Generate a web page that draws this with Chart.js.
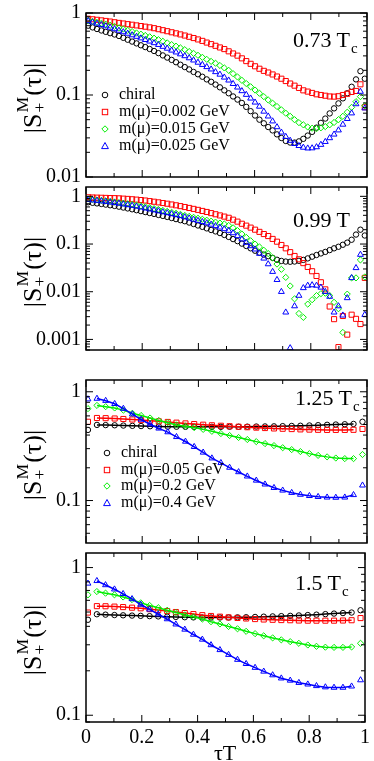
<!DOCTYPE html>
<html>
<head>
<meta charset="utf-8">
<script src="https://cdn.jsdelivr.net/npm/chart.js@4.4.1/dist/chart.umd.min.js"></script>
<style>
    html, body { margin: 0; padding: 0; background: #fff; }
    #page { position: relative; width: 374px; height: 761px; overflow: hidden; font-family: 'Liberation Serif', serif; color: #000; }
    canvas { position: absolute; left: 0; }
    .txt { position: absolute; white-space: nowrap; line-height: 1; z-index: 5; }
    .tag { font-size: 22px; }
    .tag sub { font-size: 15px; vertical-align: -6px; margin-left: 1px; }
    .ylab { position: absolute; left: 31px; font-size: 26px; white-space: nowrap; line-height: 1; transform: translate(-50%, -50%) rotate(-90deg); z-index: 5; }
    .ss { display: inline-block; vertical-align: -0.25em; font-size: 0.68em; line-height: 0.95; text-align: left; margin: 0 1px; }
    .ss span { display: block; }
    .leg { position: absolute; font-size: 16px; line-height: 1; z-index: 5; }
    .leg div { position: absolute; left: 0; white-space: nowrap; }
    .leg svg { position: absolute; left: -19px; top: 4px; }
</style>
</head>
<body>
<div id="page">
    <canvas id="p1"></canvas>
    <canvas id="p2"></canvas>
    <canvas id="p3"></canvas>
    <canvas id="p4"></canvas>

    <div class="ylab" style="top:98px">|S<span class="ss"><span>M</span><span>+</span></span>(τ)|</div>
    <div class="ylab" style="top:272px">|S<span class="ss"><span>M</span><span>+</span></span>(τ)|</div>
    <div class="ylab" style="top:465px">|S<span class="ss"><span>M</span><span>+</span></span>(τ)|</div>
    <div class="ylab" style="top:640px">|S<span class="ss"><span>M</span><span>+</span></span>(τ)|</div>

    <div class="txt tag" style="left:293px; top:29px">0.73 T<sub>c</sub></div>
    <div class="txt tag" style="left:293px; top:209px">0.99 T</div>
    <div class="txt tag" style="left:295px; top:387px">1.25 T<sub>c</sub></div>
    <div class="txt tag" style="left:295px; top:572px">1.5 T<sub>c</sub></div>

    <div class="txt" style="left:214px; top:742px; font-size:22px">τT</div>

    <div class="leg" style="left:119px; top:86px" id="leg1"></div>
    <div class="leg" style="left:121px; top:444px" id="leg3"></div>
</div>

<script>
// tau grids
const tauFine = [0.0078, 0.0234, 0.0391, 0.0547, 0.0703, 0.0859, 0.1016, 0.1172, 0.1328, 0.1484, 0.1641, 0.1797, 0.1953, 0.2109, 0.2266, 0.2422,
    0.2578, 0.2734, 0.2891, 0.3047, 0.3203, 0.3359, 0.3516, 0.3672, 0.3828, 0.3984, 0.4141, 0.4297, 0.4453, 0.4609, 0.4766, 0.4922,
    0.5078, 0.5234, 0.5391, 0.5547, 0.5703, 0.5859, 0.6016, 0.6172, 0.6328, 0.6484, 0.6641, 0.6797, 0.6953, 0.7109, 0.7266, 0.7422,
    0.7578, 0.7734, 0.7891, 0.8047, 0.8203, 0.8359, 0.8516, 0.8672, 0.8828, 0.8984, 0.9141, 0.9297, 0.9453, 0.9609, 0.9766, 0.9922];
const tauCoarse = [0.007, 0.039, 0.070, 0.102, 0.133, 0.165, 0.196, 0.228, 0.259, 0.291, 0.322, 0.354, 0.385, 0.417, 0.448, 0.480,
    0.511, 0.543, 0.574, 0.606, 0.637, 0.669, 0.700, 0.732, 0.763, 0.795, 0.826, 0.858, 0.889, 0.921, 0.952, 0.984];

// 0.73 Tc
const chiral073 = [.70, .667, .638, .612, .589, .567, .547, .525, .498, .472, .448, .426, .404, .384, .364, .344,
    .324, .304, .286, .268, .251, .234, .219, .205, .191, .179, .167, .155, .145, .134, .124, .114,
    .105, .096, .088, .080, .0716, .0635, .0562, .050, .0452, .0407, .037, .0331, .0299, .0275, .0263, .0263,
    .0272, .0292, .032, .0355, .040, .0457, .0516, .0596, .0687, .079, .091, .105, .126, .155, .195, .158];
const m002_073 = [.851, .838, .826, .813, .80, .787, .771, .757, .745, .731, .719, .706, .693, .681, .668, .653,
    .635, .617, .60, .582, .565, .548, .531, .513, .495, .476, .457, .436, .417, .398, .38, .363,
    .341, .321, .302, .28, .259, .24, .224, .209, .197, .188, .178, .168, .158, .148, .138, .130,
    .122, .114, .11, .106, .102, .10, .098, .096, .0955, .0966, .10, .1035, .109, .112, .135, .071];
const m015_073 = [.81, .789, .769, .75, .73, .71, .687, .661, .637, .614, .593, .571, .552, .532, .513, .493,
    .473, .452, .432, .412, .394, .376, .357, .339, .322, .305, .288, .272, .257, .244, .229, .214,
    .20, .182, .166, .151, .138, .126, .115, .105, .0955, .087, .0794, .0724, .066, .060, .055, .050,
    .046, .0433, .0407, .0394, .0389, .0398, .0412, .0433, .0462, .050, .055, .0617, .0708, .083, .0955, .074];
const m025_073 = [.80, .771, .745, .718, .692, .665, .638, .611, .586, .562, .538, .515, .493, .471, .451, .431,
    .41, .389, .369, .35, .332, .315, .299, .282, .265, .249, .234, .22, .206, .191, .178, .164,
    .151, .137, .124, .112, .101, .091, .0813, .0724, .063, .055, .0479, .0407, .035, .031, .0278, .0254,
    .024, .0229, .0224, .0225, .0232, .0248, .0269, .0299, .0331, .0372, .0437, .0513, .060, .0776, .11, .069];

// 0.99 Tc
const chiral099 = [.752, .731, .711, .692, .671, .65, .63, .607, .582, .558, .535, .512, .49, .468, .447, .428,
    .407, .389, .37, .351, .333, .316, .301, .282, .263, .245, .229, .213, .197, .184, .17, .155,
    .141, .127, .115, .102, .091, .0813, .0724, .066, .060, .0556, .0513, .0468, .0442, .0429, .0425, .043,
    .0445, .0465, .050, .0543, .0589, .0635, .0684, .0746, .0813, .0877, .0966, .107, .123, .158, .20, .151];
const m002_099 = [.955, .946, .94, .933, .927, .92, .916, .908, .895, .883, .869, .853, .836, .817, .794, .771,
    .748, .724, .70, .675, .649, .624, .597, .571, .546, .52, .494, .47, .445, .421, .398, .376,
    .355, .324, .295, .266, .243, .221, .20, .18, .162, .147, .128, .112, .0955, .0813, .0676, .0562,
    .0479, .0398, .0331, .0269, .0214, .0158, .0112, .0049, .00266, .00069, .0031, .00126, .0033, .0027, .0021, .0195];
const m015_099 = [.881, .861, .841, .82, .802, .782, .762, .741, .719, .698, .676, .655, .631, .605, .579, .553,
    .53, .507, .484, .462, .441, .42, .398, .38, .363, .347, .331, .316, .302, .288, .275, .263,
    .245, .219, .191, .162, .138, .117, .10, .087, .074, .063, .0513, .038, .0295, .02, .0132, .0071,
    .0035, .0029, .0055, .0068, .0083, .0091, .0093, .0083, .006, .0044, .0014, .0089, .0195, .0195, .0465, .0204];
const m025_099 = [.851, .832, .813, .794, .773, .752, .73, .708, .684, .661, .637, .614, .589, .562, .537, .513,
    .49, .468, .447, .427, .407, .389, .367, .347, .327, .309, .292, .275, .257, .24, .224, .207,
    .191, .17, .148, .126, .107, .091, .0776, .063, .05, .038, .0263, .0178, .01, .0037, .00066, .005,
    .0083, .012, .0135, .0138, .0135, .0123, .01, .0079, .0037, .005, .0032, .0074, .0195, .0316, .06, .0033];

// 1.25 Tc
const chiral125 = [.446, .496, .494, .492, .489, .486, .484, .482, .480, .478, .477, .476, .476, .476, .476, .476,
    .477, .477, .478, .479, .480, .481, .483, .485, .487, .490, .493, .497, .50, .503, .506, .53];
const m005_125 = [.53, .574, .572, .568, .562, .556, .549, .542, .535, .528, .520, .512, .505, .498, .492, .487,
    .482, .477, .472, .468, .464, .460, .457, .454, .451, .449, .447, .446, .446, .446, .447, .455];
const m02_125 = [.70, .749, .73, .71, .678, .634, .605, .574, .545, .52, .496, .483, .468, .451, .433, .413,
    .396, .38, .364, .348, .334, .32, .306, .294, .282, .27, .26, .252, .246, .243, .243, .265];
const m04_125 = [.855, .866, .828, .775, .70, .622, .556, .503, .461, .426, .385, .349, .312, .277, .245, .222,
    .201, .183, .167, .153, .141, .131, .124, .118, .1135, .1105, .1083, .107, .1065, .107, .1127, .138];

// 1.5 Tc
const chiral150 = [.443, .483, .480, .477, .475, .473, .471, .469, .467, .465, .463, .461, .46, .459, .459, .459,
    .459, .46, .461, .463, .465, .467, .469, .471, .474, .477, .48, .484, .488, .492, .496, .514];
const m005_150 = [.496, .548, .547, .544, .540, .535, .530, .523, .516, .508, .50, .492, .484, .476, .47, .465,
    .46, .456, .452, .448, .445, .443, .441, .44, .438, .437, .437, .437, .437, .438, .44, .455];
const m02_150 = [.654, .688, .671, .654, .632, .607, .577, .554, .535, .514, .496, .478, .464, .448, .43, .415,
    .399, .385, .37, .357, .345, .334, .324, .315, .307, .299, .293, .289, .288, .288, .29, .307];
const m04_150 = [.781, .813, .762, .713, .664, .613, .562, .521, .483, .448, .413, .381, .352, .326, .299, .277,
    .257, .238, .223, .21, .198, .187, .178, .172, .166, .162, .158, .155, .154, .154, .157, .173];

const legendLow = ['chiral', 'm(μ)=0.002 GeV', 'm(μ)=0.015 GeV', 'm(μ)=0.025 GeV'];
const legendHigh = ['chiral', 'm(μ)=0.05 GeV', 'm(μ)=0.2 GeV', 'm(μ)=0.4 GeV'];
const xMajor = [0, 0.2, 0.4, 0.6, 0.8, 1];
const xMinor = [0.1, 0.3, 0.5, 0.7, 0.9];

// marker looks: black circles, red squares, green diamonds, blue triangles
const looks = [
    { color: '#000000', style: 'circle', r: 2.7 },
    { color: '#ff0000', style: 'rect', r: 3.6 },
    { color: '#00ee00', style: 'rectRot', r: 3.1 },
    { color: '#0000ff', style: 'triangle', r: 3.4 }
];

// box + inward ticks on all four sides
const frameTicks = {
    id: 'frameTicks',
    afterDatasetsDraw(chart) {
        const { ctx, chartArea: a, scales: { x, y } } = chart;
        ctx.save();
        ctx.strokeStyle = '#000';
        ctx.lineWidth = 1;
        ctx.beginPath();
        const xTick = (v, len) => {
            const px = x.getPixelForValue(v);
            ctx.moveTo(px, a.bottom); ctx.lineTo(px, a.bottom - len);
            ctx.moveTo(px, a.top); ctx.lineTo(px, a.top + len);
        };
        const yTick = (v, len) => {
            const py = y.getPixelForValue(v);
            ctx.moveTo(a.left, py); ctx.lineTo(a.left + len, py);
            ctx.moveTo(a.right, py); ctx.lineTo(a.right - len, py);
        };
        xMajor.forEach(v => xTick(v, 7));
        xMinor.forEach(v => xTick(v, 4));
        for (let d = Math.floor(Math.log10(y.min)); d <= Math.ceil(Math.log10(y.max)); d++) {
            for (let k = 1; k <= 9; k++) {
                const v = k * Math.pow(10, d);
                if (v < y.min * 0.999 || v > y.max * 1.001) continue;
                yTick(v, k === 1 ? 7 : 4);
            }
        }
        ctx.stroke();
        ctx.lineWidth = 1.5;
        ctx.strokeRect(a.left, a.top, a.right - a.left, a.bottom - a.top);
        ctx.restore();
    }
};

function makePanel(id, box, tau, series, withLines, withXLabels) {
    const padTop = 12;
    const bottomSpace = withXLabels ? 36 : 12;
    const cv = document.getElementById(id);
    cv.width = 374;
    cv.height = (box.bottom - box.top) + padTop + bottomSpace;
    cv.style.top = (box.top - padTop) + 'px';

    const datasets = series.map((vals, k) => {
        const lk = looks[k];
        const last = vals.length - 1;
        return {
            data: tau.map((t, i) => ({ x: t, y: vals[i] })),
            showLine: withLines,
            borderColor: lk.color,
            borderWidth: 1.5,
            segment: withLines ? {
                borderColor: c => (c.p0DataIndex === 0 || c.p1DataIndex === last) ? 'rgba(0,0,0,0)' : lk.color
            } : undefined,
            pointStyle: lk.style,
            pointRadius: lk.r,
            pointBorderWidth: 1,
            pointBorderColor: lk.color,
            pointBackgroundColor: 'rgba(0,0,0,0)',
            order: 3 - k,
            clip: 0
        };
    });

    return new Chart(cv, {
        type: 'scatter',
        data: { datasets },
        options: {
            responsive: false,
            animation: false,
            devicePixelRatio: 1,
            layout: { padding: { top: padTop, right: 7, left: 0, bottom: 0 } },
            plugins: { legend: { display: false }, tooltip: { enabled: false } },
            scales: {
                x: {
                    type: 'linear', min: 0, max: 1,
                    afterBuildTicks: s => { s.ticks = xMajor.map(v => ({ value: v })); },
                    afterFit: s => { s.height = bottomSpace; },
                    grid: { display: false, drawTicks: false },
                    border: { display: false },
                    ticks: {
                        display: withXLabels, padding: 4, color: '#000',
                        font: { family: 'Liberation Serif', size: 20 },
                        callback: v => String(v)
                    }
                },
                y: {
                    type: 'logarithmic', min: box.min, max: box.max,
                    afterBuildTicks: s => { s.ticks = box.majors.map(v => ({ value: v })); },
                    afterFit: s => { s.width = 86; },
                    grid: { display: false, drawTicks: false },
                    border: { display: false },
                    ticks: {
                        padding: 5, color: '#000', autoSkip: false,
                        font: { family: 'Liberation Serif', size: 20 },
                        callback: v => String(v)
                    }
                }
            }
        },
        plugins: [frameTicks]
    });
}

makePanel('p1', { top: 8, bottom: 182, min: 0.01, max: 1, majors: [0.01, 0.1, 1] },
    tauFine, [chiral073, m002_073, m015_073, m025_073], false, false);
makePanel('p2', { top: 182, bottom: 355, min: 0.00061, max: 1.57, majors: [0.001, 0.01, 0.1, 1] },
    tauFine, [chiral099, m002_099, m015_099, m025_099], false, false);
makePanel('p3', { top: 375, bottom: 548, min: 0.0407, max: 1.283, majors: [0.1, 1] },
    tauCoarse, [chiral125, m005_125, m02_125, m04_125], true, false);
makePanel('p4', { top: 548, bottom: 722, min: 0.09, max: 1.255, majors: [0.1, 1] },
    tauCoarse, [chiral150, m005_150, m02_150, m04_150], true, true);

// legends drawn as html text with small svg markers
function marker(k) {
    const c = looks[k].color;
    const shapes = [
        `<circle cx="5" cy="5" r="2.8" fill="none" stroke="${c}" stroke-width="1"/>`,
        `<rect x="2.3" y="2.3" width="5.4" height="5.4" fill="none" stroke="${c}" stroke-width="1"/>`,
        `<polygon points="5,1.8 8.2,5 5,8.2 1.8,5" fill="none" stroke="${c}" stroke-width="1"/>`,
        `<polygon points="5,1.5 8.4,7.6 1.6,7.6" fill="none" stroke="${c}" stroke-width="1"/>`
    ];
    return `<svg width="10" height="10" viewBox="0 0 10 10">${shapes[k]}</svg>`;
}
function fillLegend(id, labels, step) {
    const el = document.getElementById(id);
    el.innerHTML = labels.map((t, k) =>
        `<div style="top:${(k * step).toFixed(1)}px">${marker(k)}${t}</div>`).join('');
}
fillLegend('leg1', legendLow, 17);
fillLegend('leg3', legendHigh, 16.5);
</script>
</body>
</html>
